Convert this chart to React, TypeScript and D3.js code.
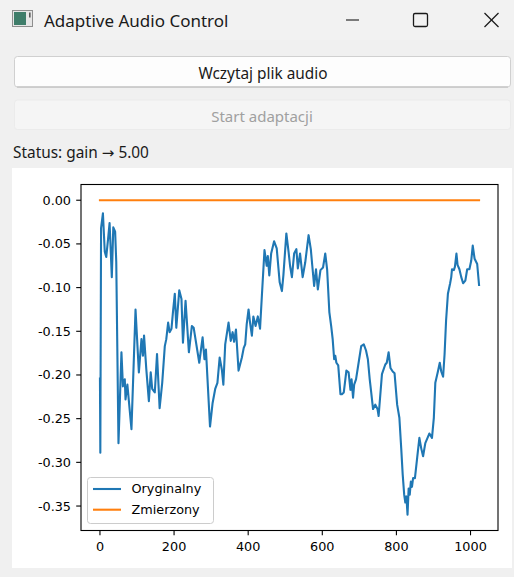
import React from "react";
import * as d3 from "d3";

const sampleIdx = [
  0, 1, 3, 8, 13, 17, 22, 26, 32, 36, 41, 44, 50, 58, 62, 67, 69, 74, 85, 96,
  105, 112, 116, 119, 125, 132, 137, 141, 148, 154, 161, 168, 175, 179, 184, 188, 193, 197, 202, 206,
  214, 220, 224, 231, 240, 248, 253, 268, 277, 282, 286, 297, 304, 311, 317, 323, 329, 333, 338, 347,
  353, 358, 362, 367, 374, 383, 388, 392, 396, 401, 405, 410, 414, 420, 426, 432, 437, 444, 450, 453,
  457, 462, 470, 477, 485, 491, 495, 503, 509, 513, 518, 524, 530, 534, 540, 547, 554, 563, 569, 573,
  578, 583, 588, 595, 602, 608, 613, 619, 624, 628, 632, 635, 638, 643, 649, 653, 658, 665, 671, 676,
  679, 683, 686, 691, 698, 705, 712, 718, 723, 728, 732, 737, 743, 749, 752, 761, 770, 774, 779, 784,
  790, 795, 802, 808, 813, 817, 821, 824, 827, 830, 833, 836, 839, 842, 845, 850, 856, 862, 867, 872,
  878, 884, 889, 896, 901, 905, 912, 917, 921, 926, 930, 934, 939, 945, 948, 950, 955, 958, 962, 965,
  970, 975, 980, 986, 991, 997, 1002, 1006, 1011, 1018, 1023,
];

const original = [
  -0.204, -0.289, -0.032, -0.015, -0.059, -0.065, -0.044, -0.026, -0.088, -0.031, -0.036, -0.071, -0.278, -0.174, -0.213, -0.205, -0.228, -0.211, -0.262, -0.125,
  -0.197, -0.159, -0.178, -0.155, -0.193, -0.23, -0.197, -0.216, -0.22, -0.176, -0.238, -0.209, -0.167, -0.159, -0.14, -0.151, -0.147, -0.128, -0.107, -0.146,
  -0.103, -0.113, -0.163, -0.115, -0.174, -0.144, -0.146, -0.186, -0.157, -0.182, -0.171, -0.259, -0.232, -0.216, -0.209, -0.18, -0.194, -0.211, -0.165, -0.14,
  -0.161, -0.151, -0.162, -0.148, -0.195, -0.18, -0.169, -0.165, -0.142, -0.125, -0.14, -0.155, -0.133, -0.144, -0.133, -0.147, -0.109, -0.057, -0.075, -0.064,
  -0.086, -0.061, -0.047, -0.055, -0.094, -0.104, -0.086, -0.038, -0.059, -0.075, -0.088, -0.061, -0.056, -0.078, -0.061, -0.088, -0.071, -0.04, -0.056, -0.075,
  -0.098, -0.079, -0.102, -0.08, -0.077, -0.061, -0.079, -0.128, -0.144, -0.159, -0.182, -0.178, -0.186, -0.189, -0.222, -0.222, -0.22, -0.195, -0.197, -0.217,
  -0.205, -0.226, -0.211, -0.205, -0.186, -0.167, -0.165, -0.172, -0.182, -0.205, -0.22, -0.239, -0.234, -0.239, -0.247, -0.199, -0.188, -0.186, -0.174, -0.192,
  -0.196, -0.198, -0.234, -0.249, -0.284, -0.314, -0.337, -0.346, -0.339, -0.36, -0.33, -0.337, -0.322, -0.328, -0.318, -0.318, -0.295, -0.272, -0.284, -0.293,
  -0.278, -0.272, -0.267, -0.272, -0.249, -0.209, -0.196, -0.186, -0.196, -0.202, -0.176, -0.138, -0.107, -0.095, -0.088, -0.079, -0.08, -0.076, -0.061, -0.074,
  -0.079, -0.088, -0.095, -0.092, -0.079, -0.079, -0.069, -0.052, -0.067, -0.073, -0.097,
];

const measuredIdx = [0, 1023];
const measured = [0, 0];

const xTicks = [0, 200, 400, 600, 800, 1000];
const yTicks = [0, -0.05, -0.1, -0.15, -0.2, -0.25, -0.3, -0.35];

const seriesNames = ["Oryginalny", "Zmierzony"];
const seriesColors = ["#1f77b4", "#ff7f0e"];

const W = 514;
const H = 577;
const UI_FONT = "'Noto Sans', 'Open Sans', sans-serif";
const MPL_FONT = "'DejaVu Sans', sans-serif";

export default function App() {
  const axL = 81, axR = 498, axT = 184.5, axB = 530.5;
  const xMin = 0, xMax = 1023;
  const xPad = (xMax - xMin) * 0.05;
  const yLo = d3.min(original.concat(measured)) as number;
  const yHi = d3.max(original.concat(measured)) as number;
  const yPad = (yHi - yLo) * 0.05;
  const x = d3.scaleLinear().domain([xMin - xPad, xMax + xPad]).range([axL, axR]);
  const y = d3.scaleLinear().domain([yHi + yPad, yLo - yPad]).range([axT, axB]);

  const line = d3
    .line<[number, number]>()
    .x((d) => x(d[0]))
    .y((d) => y(d[1]));

  const origPts: [number, number][] = sampleIdx.map((i, k) => [i, original[k]]);
  const measPts: [number, number][] = measuredIdx.map((i, k) => [i, measured[k]]);

  const fmtY = (v: number) => {
    const s = Math.abs(v).toFixed(2);
    return v < -1e-9 ? "-" + s : s;
  };

  return (
    <svg
      width={W}
      height={H}
      style={{ position: "absolute", left: 0, top: 0, display: "block" }}
      xmlns="http://www.w3.org/2000/svg"
    >
      {/* window background */}
      <rect x={0} y={0} width={W} height={H} fill="#f0f0f0" />
      <rect x={0} y={0} width={W} height={40} fill="#f2f2f2" />

      {/* title bar */}
      <g>
        <rect x={12.5} y={10.5} width={20} height={16} fill="#e6e6e6" stroke="#8e8e8e" strokeWidth={1} />
        <rect x={14} y={12} width={12} height={13} fill="#3f7d6a" />
        <rect x={29} y={12.5} width={1.6} height={5} fill="#5a5a5a" />
        <text x={44} y={26.5} fontFamily={UI_FONT} fontSize={17} fill="#1a1a1a">
          Adaptive Audio Control
        </text>
        <line x1={346} y1={20} x2={359} y2={20} stroke="#1a1a1a" strokeWidth={1.1} />
        <rect x={413.5} y={13.5} width={14} height={13} fill="none" stroke="#1a1a1a" strokeWidth={1.3} rx={1.5} />
        <line x1={484.5} y1={13} x2={498.5} y2={27} stroke="#1a1a1a" strokeWidth={1.2} />
        <line x1={498.5} y1={13} x2={484.5} y2={27} stroke="#1a1a1a" strokeWidth={1.2} />
      </g>

      {/* buttons */}
      <rect x={14.5} y={56.5} width={496} height={30.5} rx={3} fill="#fdfdfd" stroke="#d0d0d0" />
      <line x1={17} y1={87} x2={508} y2={87} stroke="#b8b8b8" strokeWidth={1} />
      <text x={263} y={78.5} textAnchor="middle" fontFamily={UI_FONT} fontSize={15.4} fill="#1a1a1a">
        Wczytaj plik audio
      </text>
      <rect x={14.5} y={100} width={496} height={29.5} rx={3} fill="#f5f5f5" stroke="#ebebeb" />
      <text x={262} y={121.5} textAnchor="middle" fontFamily={UI_FONT} fontSize={15} fill="#a0a0a0">
        Start adaptacji
      </text>

      {/* status */}
      <text x={13} y={157.5} fontFamily={UI_FONT} fontSize={15.4} fill="#1a1a1a">
        Status: gain <tspan fontFamily={MPL_FONT} fontSize={15}>→</tspan> 5.00
      </text>

      {/* figure canvas */}
      <rect x={12} y={168} width={500} height={400} fill="#ffffff" />

      {/* lines */}
      <defs>
        <clipPath id="axclip">
          <rect x={axL} y={axT} width={axR - axL} height={axB - axT} />
        </clipPath>
      </defs>
      <g clipPath="url(#axclip)">
        <path d={line(origPts) || ""} fill="none" stroke={seriesColors[0]} strokeWidth={2.1} strokeLinejoin="round" strokeLinecap="square" />
        <path d={line(measPts) || ""} fill="none" stroke={seriesColors[1]} strokeWidth={2.1} strokeLinecap="square" />
      </g>

      {/* axes frame */}
      <rect x={axL} y={axT} width={axR - axL} height={axB - axT} fill="none" stroke="#000" strokeWidth={1.1} />

      {/* y ticks */}
      {yTicks.map((t) => (
        <g key={"y" + t}>
          <line x1={axL - 4.8} x2={axL} y1={y(t)} y2={y(t)} stroke="#000" strokeWidth={1.1} />
          <text
            x={axL - 10}
            y={y(t)}
            dy="0.35em"
            textAnchor="end"
            fontFamily={MPL_FONT}
            fontSize={12.8}
            fill="#000"
          >
            {fmtY(t)}
          </text>
        </g>
      ))}

      {/* x ticks */}
      {xTicks.map((t) => (
        <g key={"x" + t}>
          <line x1={x(t)} x2={x(t)} y1={axB} y2={axB + 4.8} stroke="#000" strokeWidth={1.1} />
          <text x={x(t)} y={axB + 20} textAnchor="middle" fontFamily={MPL_FONT} fontSize={12.8} fill="#000">
            {t}
          </text>
        </g>
      ))}

      {/* legend */}
      <g>
        <rect x={87.5} y={477.5} width={126} height={46} rx={3} fill="#ffffff" fillOpacity={0.8} stroke="#cccccc" strokeWidth={1} />
        {seriesNames.map((name, i) => (
          <g key={name}>
            <line x1={93} x2={121} y1={489 + i * 20.7} y2={489 + i * 20.7} stroke={seriesColors[i]} strokeWidth={2.1} />
            <text x={131.5} y={489 + i * 20.7} dy="0.35em" fontFamily={MPL_FONT} fontSize={12.8} fill="#000">
              {name}
            </text>
          </g>
        ))}
      </g>
    </svg>
  );
}
